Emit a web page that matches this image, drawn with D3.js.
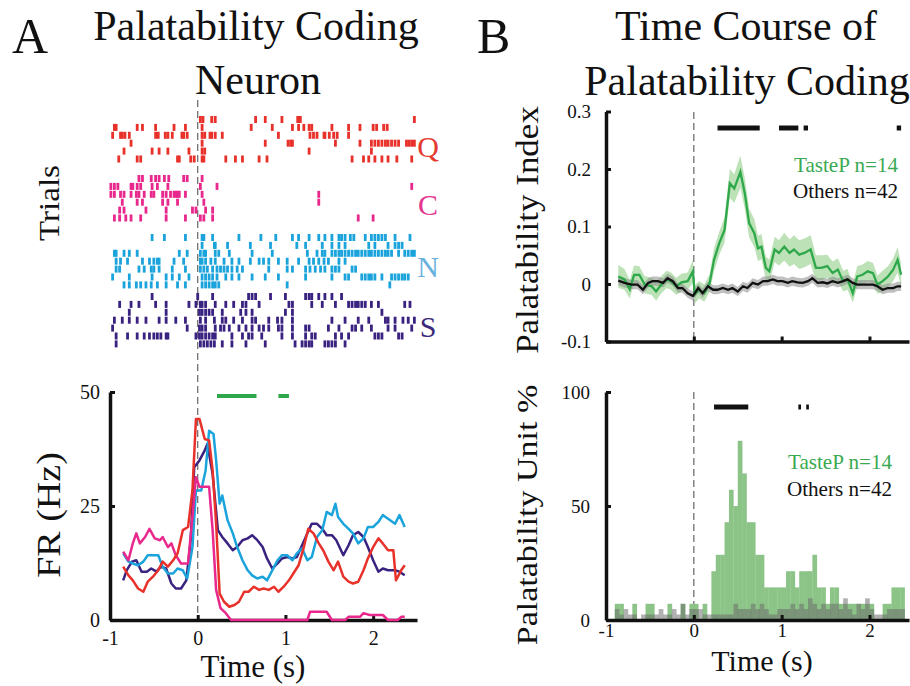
<!DOCTYPE html>
<html>
<head>
<meta charset="utf-8">
<script src="https://cdn.jsdelivr.net/npm/d3@7/dist/d3.min.js"></script>
<style>
  body { margin: 0; background: #fff; }
  svg text { font-family: "Liberation Serif", "Times New Roman", "DejaVu Serif", serif; }
</style>
</head>
<body>
<svg id="fig" width="910" height="686"></svg>
<script>
// ---------- data ----------
const tastes = ['Q', 'C', 'N', 'S'];
const tasteColors = ['#e8312a', '#e8288c', '#1ba3dc', '#3a2280'];
const tasteLabelColors = ['#e33a2f', '#e6358f', '#6ab2dd', '#3b2a7a'];

// spike times (s), one array per trial
const rasterQ = [
  [0.03, 0.06, 0.16, 0.20, 0.66, 0.77, 0.96, 1.14, 1.17, 2.47],
  [-0.95, -0.93, -0.69, -0.63, -0.48, -0.27, -0.14, 0.05, 0.61, 0.85, 1.08, 1.15, 1.21, 1.27, 1.30, 1.53, 1.72, 1.85, 2.00, 2.04, 2.12, 2.16],
  [-0.97, -0.88, -0.86, -0.83, -0.78, -0.48, -0.45, -0.37, -0.34, -0.29, -0.18, -0.16, -0.12, 0.05, 0.08, 0.14, 0.16, 0.20, 0.28, 0.92, 1.28, 1.32, 1.36, 1.44, 1.45, 1.50, 1.55, 1.59, 1.72],
  [-0.76, 0.05, 0.77, 1.03, 1.06, 1.08, 1.57, 1.85, 1.98, 2.02, 2.06, 2.10, 2.14, 2.17, 2.21, 2.25, 2.29, 2.38, 2.41, 2.44, 2.47],
  [-0.84, -0.52, -0.44, -0.34, -0.10, 0.05, 0.08, 1.27, 1.98],
  [-0.90, -0.69, -0.65, -0.23, -0.21, -0.08, -0.04, 0.05, 0.07, 0.32, 0.43, 0.51, 0.70, 0.79, 1.76, 1.89, 1.95, 2.02, 2.10, 2.17, 2.27, 2.44]
];
const rasterC = [
  [-0.67, -0.63, -0.53, -0.48, -0.44, -0.38, -0.33, -0.16, -0.12, 0.05],
  [-0.99, -0.95, -0.91, -0.76, -0.74, -0.69, -0.65, -0.52, -0.46, -0.34, 0.03, 0.22, 2.44],
  [-0.99, -0.95, -0.88, -0.84, -0.76, -0.70, -0.67, -0.61, -0.53, -0.50, -0.40, -0.36, -0.31, -0.27, -0.25, -0.23, -0.21, -0.14, 0.05, 1.38],
  [-0.86, -0.69, -0.63, -0.40, -0.34, -0.23, 0.07, 1.38],
  [-0.89, -0.84, -0.59, -0.36, -0.06, -0.02, 0.09, 0.17],
  [-0.95, -0.89, -0.82, -0.76, -0.65, -0.36, -0.14, 0.03, 0.07, 0.17, 1.83, 2.00]
];
const rasterN = [
  [-0.52, -0.38, -0.14, 0.05, 0.07, 0.17, 0.47, 0.72, 0.89, 1.08, 1.15, 1.27, 1.38, 1.45, 1.53, 1.61, 1.64, 1.68, 1.74, 1.78, 1.91, 1.98, 2.02, 2.06, 2.10, 2.14, 2.25, 2.42],
  [0.05, 0.19, 0.20, 0.34, 0.60, 0.83, 1.13, 1.23, 1.42, 1.53, 1.61, 1.68, 1.95, 2.02, 2.17, 2.25, 2.29, 2.33],
  [-0.95, -0.93, -0.84, -0.78, -0.69, -0.21, -0.12, 0.03, 0.07, 0.09, 0.20, 0.24, 0.36, 0.62, 0.85, 1.25, 1.36, 1.42, 1.45, 1.53, 1.57, 1.61, 1.64, 1.68, 1.72, 1.76, 1.80, 1.83, 1.87, 1.91, 1.95, 1.98, 2.02, 2.06, 2.10, 2.14, 2.17, 2.21, 2.29, 2.36, 2.40, 2.44, 2.47],
  [-0.93, -0.88, -0.80, -0.63, -0.55, -0.50, -0.46, -0.44, -0.27, -0.16, 0.03, 0.05, 0.09, 0.15, 0.20, 0.30, 0.39, 0.47, 0.60, 0.70, 0.75, 0.81, 0.92, 1.02, 1.15, 1.27, 1.32, 1.38, 1.44, 1.49, 1.61, 1.68],
  [-0.93, -0.89, -0.67, -0.61, -0.53, -0.50, -0.44, -0.29, -0.14, 0.03, 0.07, 0.11, 0.17, 0.22, 0.26, 0.30, 0.34, 0.39, 0.45, 0.51, 0.81, 1.02, 1.08, 1.23, 1.28, 1.34, 1.40, 1.45, 1.53, 1.57, 1.61, 1.76, 1.80],
  [-0.97, -0.78, -0.52, -0.36, -0.29, -0.21, -0.10, 0.05, 0.09, 0.13, 0.17, 0.22, 0.32, 0.39, 0.47, 0.62, 0.77, 0.92, 1.23, 1.53, 1.68, 1.72, 1.87, 1.91, 1.95, 1.98, 2.02, 2.10, 2.21, 2.25, 2.29, 2.33, 2.36, 2.40],
  [-0.84, -0.78, -0.70, -0.65, -0.59, -0.53, -0.46, -0.36, -0.23, -0.14, 0.05, 0.09, 0.13, 0.17, 0.20, 0.24, 1.02, 2.19]
];
const rasterS = [
  [-0.52, 0.00, 0.17, 0.58, 0.62, 0.66, 0.83, 1.00, 1.23, 1.27, 1.30, 1.38, 1.45, 1.53, 1.64],
  [-0.89, -0.76, -0.67, -0.48, -0.36, -0.10, -0.02, 0.03, 0.05, 0.09, 0.20, 0.32, 0.41, 0.51, 0.55, 0.70, 1.04, 1.08, 1.30, 1.42, 1.57, 1.72, 1.76, 1.80, 1.83, 1.87, 1.91, 1.98, 2.06, 2.36, 2.42],
  [-0.78, -0.36, 0.02, 0.05, 0.09, 0.13, 0.17, 0.28, 0.49, 0.55, 0.62, 1.00, 1.08, 2.10],
  [-0.95, -0.86, -0.78, -0.69, -0.59, -0.44, -0.36, -0.25, -0.14, 0.03, 0.09, 0.19, 0.28, 0.32, 0.41, 0.51, 0.62, 0.66, 0.81, 0.91, 0.96, 1.08, 1.53, 1.68, 1.83, 1.95, 2.14, 2.17, 2.25, 2.34, 2.40, 2.47],
  [-0.97, -0.12, 0.02, 0.05, 0.09, 0.20, 0.26, 0.30, 0.36, 0.47, 0.55, 0.62, 0.70, 0.75, 0.81, 0.92, 0.96, 1.08, 1.23, 1.27, 1.49, 1.61, 1.76, 1.80, 1.87, 1.98, 2.17, 2.25, 2.44],
  [-0.93, -0.80, -0.69, -0.61, -0.55, -0.50, -0.46, -0.42, -0.36, -0.34, -0.02, 0.02, 0.05, 0.09, 0.13, 0.17, 0.20, 0.39, 0.51, 0.58, 0.62, 0.73, 0.96, 1.08, 1.23, 1.30, 1.34, 1.57, 1.64, 1.72, 2.02, 2.06, 2.10, 2.29, 2.33],
  [-0.93, 0.03, 0.07, 0.11, 0.15, 0.19, 0.28, 0.39, 0.55, 0.77, 1.11, 1.19, 1.23, 1.27, 1.30, 1.45, 1.49, 1.53, 1.57, 1.68]
];
const rasters = [rasterQ, rasterC, rasterN, rasterS];

// firing rate [time s, Hz]
const frQ = [[-0.85,11.7],[-0.79,9.8],[-0.74,8.7],[-0.68,6.9],[-0.62,6.2],[-0.57,8.4],[-0.51,9.5],[-0.45,10.9],[-0.40,12.8],[-0.34,11.7],[-0.28,13.1],[-0.23,14.6],[-0.17,19.7],[-0.11,20.4],[-0.06,28.4],[-0.02,44.1],[0.02,44.1],[0.08,39.7],[0.13,39.4],[0.17,32.8],[0.21,21.1],[0.25,5.8],[0.30,4.0],[0.36,2.9],[0.42,3.3],[0.47,4.0],[0.53,6.2],[0.58,6.2],[0.64,7.3],[0.70,6.6],[0.75,6.9],[0.81,6.6],[0.87,7.3],[0.92,6.2],[0.98,7.3],[1.04,8.7],[1.09,10.2],[1.15,12.0],[1.21,16.0],[1.26,20.0],[1.32,19.0],[1.38,16.8],[1.43,15.3],[1.49,12.8],[1.55,10.9],[1.60,12.8],[1.66,9.5],[1.72,8.4],[1.77,8.0],[1.83,8.4],[1.89,10.9],[1.94,13.5],[2.00,16.0],[2.06,17.9],[2.11,16.8],[2.17,15.3],[2.23,15.3],[2.26,8.7],[2.32,10.9],[2.36,12.0]];
const frC = [[-0.85,15.0],[-0.79,13.1],[-0.74,16.8],[-0.70,19.0],[-0.66,16.8],[-0.60,18.2],[-0.55,20.0],[-0.49,17.9],[-0.43,17.5],[-0.40,18.2],[-0.34,16.0],[-0.30,16.8],[-0.25,14.2],[-0.19,12.4],[-0.11,12.4],[-0.06,22.6],[-0.02,31.3],[0.02,29.2],[0.08,29.2],[0.13,29.2],[0.17,19.7],[0.21,6.6],[0.26,2.6],[0.32,1.5],[0.38,0],[1.25,0],[1.28,1.8],[1.47,1.8],[1.53,0],[1.68,0],[1.72,0.7],[1.85,0.7],[1.89,1.5],[1.96,1.1],[2.11,1.1],[2.17,0],[2.28,0],[2.32,0.7],[2.36,0.7]];
const frN = [[-0.85,14.6],[-0.79,12.8],[-0.74,12.4],[-0.68,12.0],[-0.62,12.8],[-0.57,14.2],[-0.51,14.2],[-0.45,14.2],[-0.40,11.7],[-0.34,10.2],[-0.28,10.2],[-0.23,11.3],[-0.17,10.9],[-0.12,9.1],[-0.06,16.0],[-0.02,28.4],[0.04,28.4],[0.09,32.8],[0.13,41.5],[0.18,40.8],[0.21,35.0],[0.25,25.5],[0.28,27.3],[0.34,21.9],[0.40,19.0],[0.45,16.0],[0.51,13.1],[0.57,10.9],[0.62,9.8],[0.68,9.1],[0.74,9.5],[0.79,8.7],[0.85,10.9],[0.91,13.1],[0.96,14.2],[1.02,14.2],[1.08,13.1],[1.13,14.6],[1.19,15.7],[1.25,13.1],[1.30,13.8],[1.36,18.2],[1.42,19.7],[1.47,23.7],[1.53,23.0],[1.57,25.5],[1.60,22.6],[1.66,21.1],[1.72,20.0],[1.77,19.0],[1.83,16.8],[1.89,17.9],[1.94,20.4],[2.00,20.4],[2.06,21.5],[2.11,23.0],[2.17,22.2],[2.25,21.1],[2.30,23.0],[2.36,20.4]];
const frS = [[-0.85,8.7],[-0.81,10.9],[-0.75,12.8],[-0.70,13.1],[-0.64,10.6],[-0.58,10.6],[-0.53,11.3],[-0.47,10.6],[-0.42,11.7],[-0.36,11.3],[-0.30,8.0],[-0.25,6.9],[-0.19,6.9],[-0.13,8.7],[-0.08,17.5],[-0.04,33.5],[0.02,35.0],[0.08,37.2],[0.11,38.6],[0.17,32.0],[0.23,19.7],[0.28,18.2],[0.34,16.8],[0.40,15.3],[0.45,16.0],[0.51,17.5],[0.57,17.9],[0.62,18.6],[0.68,17.5],[0.74,16.0],[0.79,13.5],[0.85,11.3],[0.91,12.4],[0.96,13.5],[1.02,13.8],[1.08,13.5],[1.13,13.8],[1.19,16.4],[1.25,19.0],[1.30,21.1],[1.36,21.1],[1.42,20.0],[1.47,18.6],[1.53,18.6],[1.58,17.5],[1.66,14.2],[1.72,16.4],[1.77,18.6],[1.83,19.3],[1.89,18.2],[1.94,16.0],[2.00,13.1],[2.06,10.6],[2.11,11.3],[2.17,10.9],[2.25,10.9],[2.30,10.6],[2.36,9.8]];
const frSig = [[0.22, 0.67], [0.92, 1.04]];

// palatability index [time s, index], sem per point
const piTasteP = [[-0.86,0.013],[-0.79,0.008],[-0.73,-0.009],[-0.68,0.016],[-0.62,0.016],[-0.56,-0.001],[-0.48,-0.004],[-0.43,-0.013],[-0.37,-0.001],[-0.31,0.008],[-0.26,0.005],[-0.20,-0.004],[-0.14,0.003],[-0.07,0.005],[-0.01,0.022],[0.01,-0.018],[0.06,-0.010],[0.12,-0.016],[0.18,0.002],[0.23,0.042],[0.29,0.071],[0.35,0.094],[0.41,0.175],[0.46,0.166],[0.53,0.195],[0.58,0.158],[0.63,0.106],[0.69,0.088],[0.73,0.062],[0.77,0.065],[0.82,0.028],[0.86,0.022],[0.92,0.060],[0.97,0.054],[1.03,0.065],[1.09,0.054],[1.14,0.060],[1.20,0.051],[1.26,0.054],[1.33,0.060],[1.39,0.028],[1.45,0.028],[1.52,0.031],[1.58,0.019],[1.64,0.025],[1.70,0.005],[1.75,0.008],[1.81,-0.016],[1.86,0.013],[1.92,0.016],[1.98,0.022],[2.04,0.019],[2.09,-0.001],[2.15,0.005],[2.21,0.013],[2.27,0.025],[2.32,0.042],[2.36,0.016]];
const piTastePSem = [0.02,0.018,0.016,0.016,0.015,0.015,0.015,0.016,0.015,0.015,0.015,0.015,0.015,0.015,0.02,0.016,0.015,0.015,0.015,0.02,0.02,0.022,0.025,0.025,0.028,0.027,0.025,0.024,0.022,0.022,0.02,0.02,0.022,0.022,0.024,0.024,0.025,0.025,0.025,0.025,0.022,0.022,0.02,0.02,0.02,0.018,0.018,0.016,0.018,0.018,0.018,0.018,0.016,0.018,0.018,0.02,0.022,0.02];
const piOthers = [[-0.86,0.006],[-0.79,0.002],[-0.71,-0.001],[-0.64,-0.001],[-0.58,-0.010],[-0.52,0.002],[-0.47,0.005],[-0.41,0.005],[-0.35,0.002],[-0.30,0.010],[-0.24,0.005],[-0.18,-0.007],[-0.13,-0.007],[-0.07,-0.016],[-0.01,-0.021],[0.05,-0.007],[0.10,-0.016],[0.16,-0.004],[0.22,-0.010],[0.27,-0.010],[0.33,-0.007],[0.39,-0.010],[0.44,-0.007],[0.50,-0.013],[0.56,-0.004],[0.61,-0.007],[0.67,0.002],[0.73,-0.001],[0.79,0.005],[0.84,0.005],[0.90,0.008],[0.95,0.005],[1.01,0.005],[1.07,0.002],[1.12,0.005],[1.18,0.003],[1.24,0.002],[1.30,0.005],[1.35,0.010],[1.41,0.002],[1.47,0.003],[1.52,0.001],[1.58,0.005],[1.64,0.002],[1.70,0.005],[1.75,0.008],[1.81,0.002],[1.86,-0.001],[1.92,-0.001],[1.98,-0.001],[2.04,-0.001],[2.09,-0.004],[2.15,-0.010],[2.21,-0.007],[2.27,-0.007],[2.32,-0.004],[2.36,-0.004]];
const piOthersSem = 0.008;
const piSig = [[0.27, 0.75], [0.97, 1.19], [1.25, 1.30], [2.31, 2.36]];

// palatability unit % histograms, 0.05 s bins from -0.9 s
const binStart = -0.9, binWidth = 0.05;
const pctTasteP = [7.1,7.1,0,0,7.1,0,0,7.1,7.1,0,0,0,7.1,0,0,7.1,0,7.1,7.1,0,7.1,0,21.4,28.6,28.6,42.9,57.1,50,78.6,64.3,42.9,42.9,28.6,28.6,14.3,14.3,14.3,14.3,14.3,21.4,21.4,14.3,21.4,21.4,21.4,28.6,14.3,14.3,7.1,14.3,14.3,7.1,7.1,7.1,7.1,7.1,7.1,7.1,7.1,0,0,7.1,7.1,14.3,14.3,14.3];
const pctOthers = [4.8,2.4,4.8,2.4,2.4,0,2.4,2.4,2.4,2.4,4.8,2.4,2.4,4.8,2.4,7.1,2.4,4.8,4.8,4.8,2.4,2.4,2.4,2.4,2.4,2.4,2.4,7.1,4.8,4.8,4.8,7.1,4.8,7.1,4.8,2.4,2.4,4.8,4.8,4.8,7.1,4.8,7.1,4.8,9.5,7.1,4.8,7.1,4.8,7.1,7.1,4.8,9.5,4.8,2.4,7.1,4.8,9.5,4.8,2.4,2.4,2.4,4.8,4.8,4.8,4.8];
const pctSig = [[0.23, 0.62], [1.19, 1.22], [1.28, 1.31]];

// ---------- drawing ----------
const serif = '"Liberation Serif", "Times New Roman", "DejaVu Serif", serif';
const svg = d3.select('#fig');
svg.append('rect').attr('width', 910).attr('height', 686).attr('fill', '#fff');

const green = '#2ea84a';

function label(x, y, s, size, opts = {}) {
	const sx = opts.sx || 1;
	const tr = opts.rotate
		? `translate(${x},${y}) rotate(-90) scale(1,${sx})`
		: `translate(${x},${y}) scale(${sx},1)`;
	return svg.append('text')
		.attr('transform', tr)
		.attr('font-family', serif)
		.attr('font-size', size)
		.attr('text-anchor', opts.anchor || 'middle')
		.attr('fill', opts.color || '#111')
		.text(s);
}

function styleAxis(g, fontSize) {
	g.attr('font-family', serif);
	g.select('.domain').attr('stroke', '#111').attr('stroke-width', 3.5);
	g.selectAll('.tick line').attr('stroke', '#111').attr('stroke-width', 3);
	g.selectAll('.tick text')
		.attr('font-family', serif)
		.attr('font-size', fontSize).attr('fill', '#111');
}

function dashed(x, y0, y1) {
	svg.append('line')
		.attr('x1', x).attr('x2', x).attr('y1', y0).attr('y2', y1)
		.attr('stroke', '#666').attr('stroke-width', 1.2)
		.attr('stroke-dasharray', '7,4');
}

function sigBars(segs, x, y, color, width) {
	svg.append('g').selectAll('line')
		.data(segs).enter().append('line')
		.attr('x1', d => x(d[0])).attr('x2', d => x(d[1]))
		.attr('y1', y).attr('y2', y)
		.attr('stroke', color).attr('stroke-width', width);
}

// plain hyphen minus like the original
const plain = d => String(d);

// titles
label(12, 53, 'A', 50, { anchor: 'start' });
label(256, 40, 'Palatability Coding', 42);
label(258, 94, 'Neuron', 42);
label(477, 53, 'B', 50, { anchor: 'start' });
label(746, 40, 'Time Course of', 42);
label(747, 95, 'Palatability Coding', 42);

// ===== panel A =====
const xA = d3.scaleLinear().domain([-1, 2.5]).range([110, 417]);
const yFR = d3.scaleLinear().domain([0, 50]).range([620, 392]);

// raster
const bandY = d3.scaleBand().domain(tastes).range([116, 352]);
const rowStep = 7.9;
dashed(xA(0), 100, 620);

tastes.forEach((t, i) => {
	const spikes = [];
	rasters[i].forEach((row, r) => row.forEach(s => spikes.push({ t: s, r: r })));
	svg.append('g').selectAll('rect')
		.data(spikes).enter().append('rect')
		.attr('x', d => xA(d.t) - 1.4)
		.attr('y', d => bandY(t) + d.r * rowStep)
		.attr('width', 2.8)
		.attr('height', 7)
		.attr('fill', tasteColors[i]);
});

const letterBase = { Q: 157, C: 215, N: 277, S: 337 };
tastes.forEach((t, i) => {
	label(428, letterBase[t], t, 30, { color: tasteLabelColors[i] });
});
label(59, 203, 'Trials', 33, { rotate: true, sx: 0.9 });

// FR axes
const gxA = svg.append('g').attr('transform', `translate(0,${yFR(0)})`)
	.call(d3.axisBottom(xA).tickValues([-1, 0, 1, 2]).tickSizeInner(-5).tickSizeOuter(0).tickPadding(11).tickFormat(plain));
styleAxis(gxA, 20);
const gyA = svg.append('g').attr('transform', `translate(${xA(-1)},0)`)
	.call(d3.axisLeft(yFR).tickValues([0, 25, 50]).tickSizeInner(-5).tickSizeOuter(0).tickPadding(10));
styleAxis(gyA, 20);

const frLine = d3.line().x(d => xA(d[0])).y(d => yFR(d[1]));
[[frS, 3], [frN, 2], [frC, 1], [frQ, 0]].forEach(([data, ci]) => {
	svg.append('path').datum(data)
		.attr('d', frLine)
		.attr('fill', 'none')
		.attr('stroke', tasteColors[ci])
		.attr('stroke-width', 2.5)
		.attr('stroke-linejoin', 'round');
});
sigBars(frSig, xA, 396, green, 4);

label(253, 677, 'Time (s)', 31);
label(60, 515, 'FR (Hz)', 38, { rotate: true, sx: 0.88 });

// ===== panel B, top =====
const xB = d3.scaleLinear().domain([-1, 2.45]).range([606, 909]);
const yPI = d3.scaleLinear().domain([-0.1, 0.3]).range([341.5, 111.5]);

dashed(xB(0), 112, 340);

const band = d3.area()
	.x(d => xB(d[0]))
	.y0((d, i) => yPI(d[1] - piTastePSem[i]))
	.y1((d, i) => yPI(d[1] + piTastePSem[i]));
svg.append('path').datum(piTasteP).attr('d', band)
	.attr('fill', '#6cbf5f').attr('opacity', 0.45);

const bandO = d3.area()
	.x(d => xB(d[0]))
	.y0(d => yPI(d[1] - piOthersSem))
	.y1(d => yPI(d[1] + piOthersSem));
svg.append('path').datum(piOthers).attr('d', bandO)
	.attr('fill', '#8a8a8a').attr('opacity', 0.55);

const piLine = d3.line().x(d => xB(d[0])).y(d => yPI(d[1]));
svg.append('path').datum(piTasteP).attr('d', piLine)
	.attr('fill', 'none').attr('stroke', green).attr('stroke-width', 2.3);
svg.append('path').datum(piOthers).attr('d', piLine)
	.attr('fill', 'none').attr('stroke', '#111').attr('stroke-width', 2.3);

const gxB1 = svg.append('g').attr('transform', `translate(0,${yPI(-0.1)})`)
	.call(d3.axisBottom(xB).tickValues([0, 1, 2]).tickSizeInner(-5).tickSizeOuter(0).tickFormat(''));
styleAxis(gxB1, 19);
const gyB1 = svg.append('g').attr('transform', `translate(${xB(-1)},0)`)
	.call(d3.axisLeft(yPI).tickValues([-0.1, 0, 0.1, 0.2, 0.3]).tickSizeInner(-5).tickSizeOuter(0).tickPadding(15)
		.tickFormat(d => d === 0 ? '0' : d.toFixed(1)));
styleAxis(gyB1, 19);

sigBars(piSig, xB, 128, '#111', 5);

label(898, 172, 'TasteP n=14', 22, { anchor: 'end', color: '#3aaa52', sx: 0.96 });
label(898, 198, 'Others n=42', 22, { anchor: 'end', sx: 0.96 });
label(538, 230, 'Palatability Index', 35, { rotate: true, sx: 0.88 });

// ===== panel B, bottom =====
const yPU = d3.scaleLinear().domain([0, 100]).range([620, 392]);
dashed(xB(0), 392, 620);

const bins = pctTasteP.map((v, i) => ({ t0: binStart + i * binWidth, g: v, o: pctOthers[i] }));
svg.append('g').selectAll('rect')
	.data(bins.filter(d => d.g > 0)).enter().append('rect')
	.attr('x', d => xB(d.t0)).attr('width', d => xB(d.t0 + binWidth) - xB(d.t0) + 0.3)
	.attr('y', d => yPU(d.g)).attr('height', d => yPU(0) - yPU(d.g))
	.attr('fill', '#8cc488');
svg.append('g').selectAll('rect')
	.data(bins.filter(d => d.o > 0)).enter().append('rect')
	.attr('x', d => xB(d.t0)).attr('width', d => xB(d.t0 + binWidth) - xB(d.t0) + 0.3)
	.attr('y', d => yPU(d.o)).attr('height', d => yPU(0) - yPU(d.o))
	.attr('fill', '#6a6a6a').attr('opacity', 0.52);

const gxB2 = svg.append('g').attr('transform', `translate(0,${yPU(0)})`)
	.call(d3.axisBottom(xB).tickValues([-1, 0, 1, 2]).tickSizeInner(-5).tickSizeOuter(0).tickPadding(4).tickFormat(plain));
styleAxis(gxB2, 19);
const gyB2 = svg.append('g').attr('transform', `translate(${xB(-1)},0)`)
	.call(d3.axisLeft(yPU).tickValues([0, 50, 100]).tickSizeInner(-5).tickSizeOuter(0).tickPadding(16));
styleAxis(gyB2, 19);

sigBars(pctSig, xB, 407, '#111', 5);

label(892, 469, 'TasteP n=14', 22, { anchor: 'end', color: '#3aaa52', sx: 0.96 });
label(892, 496, 'Others n=42', 22, { anchor: 'end', sx: 0.96 });
label(537, 515, 'Palatability Unit %', 34, { rotate: true, sx: 0.88 });
label(762, 671, 'Time (s)', 30);
</script>
</body>
</html>
